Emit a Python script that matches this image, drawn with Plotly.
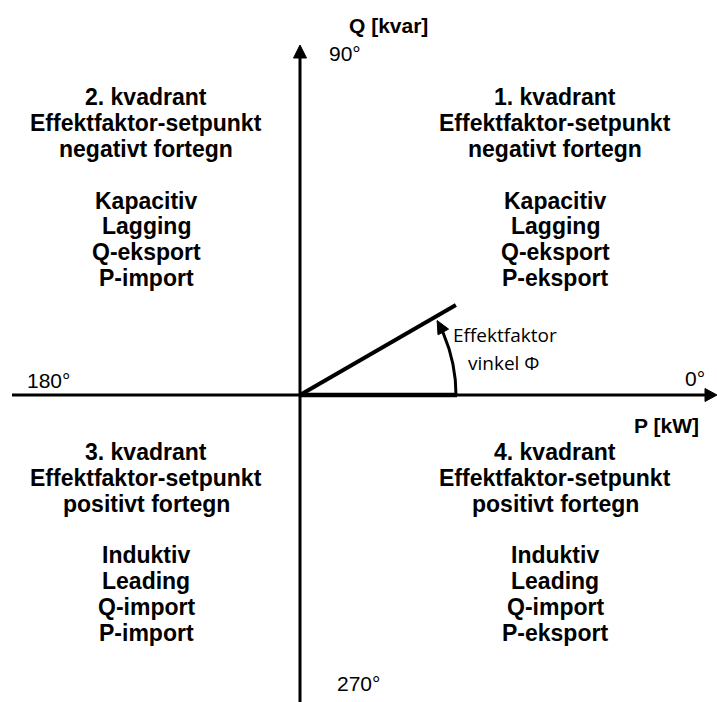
import numpy as np
import plotly.graph_objects as go

# ── Diagram content ───────────────────────────────────────────────────────────
# Quadrants in order 1, 2, 3, 4 (counter-clockwise from the P+/Q+ corner)
QUADRANT_TITLES = ["1. kvadrant", "2. kvadrant", "3. kvadrant", "4. kvadrant"]
SETPOINT_LINE = "Effektfaktor-setpunkt"
SETPOINT_SIGN = ["negativt fortegn", "negativt fortegn", "positivt fortegn", "positivt fortegn"]
LOAD_TYPE = ["Kapacitiv", "Kapacitiv", "Induktiv", "Induktiv"]
PHASE = ["Lagging", "Lagging", "Leading", "Leading"]
Q_FLOW = ["Q-eksport", "Q-eksport", "Q-import", "Q-import"]
P_FLOW = ["P-eksport", "P-import", "P-import", "P-eksport"]

ANGLE_LABELS = ["0°", "90°", "180°", "270°"]
AXIS_TITLES = ["P [kW]", "Q [kvar]"]
PHI_LABEL = ["Effektfaktor", "vinkel Φ"]

PHI_DEG = 30.0        # angle of the example power vector
ARC_END_DEG = 28.5    # where the angle arrow ends
VECTOR_LEN = 180.0
ARC_RADIUS = 156.0

# ── Geometry (1 data unit = 1 pixel, origin where the axes cross) ────────────
X_RANGE = [-300, 417]
Y_RANGE = [-307, 395]
AXIS_LEFT, AXIS_RIGHT = -288, 417
AXIS_BOTTOM, AXIS_TOP = -310, 350

BOLD = "Liberation Sans, Arial, sans-serif"
REG = "Liberation Sans, Arial, sans-serif"
SANS = "Open Sans, sans-serif"

LINE_STEP = 25.8
BLOCK_X = {1: 255, 2: -154, 3: -154, 4: 255}
BLOCK_Y = {1: 297.7, 2: 297.7, 3: -57, 4: -57}


def arrow_head(tip, direction, length, half_w):
    d = np.asarray(direction, float)
    d /= np.linalg.norm(d)
    n = np.array([-d[1], d[0]])
    t = np.asarray(tip, float)
    base = t - length * d
    pts = [t, base + half_w * n, base - half_w * n, t]
    return [p[0] for p in pts], [p[1] for p in pts]


fig = go.Figure()


def add_line(xs, ys, width):
    fig.add_trace(go.Scatter(x=xs, y=ys, mode="lines",
                             line=dict(color="black", width=width),
                             hoverinfo="skip"))


def add_head(tip, direction, length, half_w):
    hx, hy = arrow_head(tip, direction, length, half_w)
    fig.add_trace(go.Scatter(x=hx, y=hy, mode="lines", fill="toself",
                             fillcolor="black", line=dict(color="black", width=1),
                             hoverinfo="skip"))


# Axes with arrowheads
add_line([AXIS_LEFT, AXIS_RIGHT - 10], [0, 0], 3)
add_head((AXIS_RIGHT, 0), (1, 0), 12, 6.5)
add_line([0, 0], [AXIS_BOTTOM, AXIS_TOP - 10], 3)
add_head((0, AXIS_TOP), (0, 1), 13, 6.5)

# Power vector and its projection on the P-axis
phi = np.radians(PHI_DEG)
add_line([0, ARC_RADIUS + 1], [0, 0], 4.5)
add_line([0, VECTOR_LEN * np.cos(phi)], [0, VECTOR_LEN * np.sin(phi)], 4)

# Angle arc with arrowhead
end = np.radians(ARC_END_DEG)
head_len = 13
theta = np.linspace(0, end - head_len / ARC_RADIUS * 0.8, 60)
add_line(ARC_RADIUS * np.cos(theta), ARC_RADIUS * np.sin(theta), 3)
add_head((ARC_RADIUS * np.cos(end), ARC_RADIUS * np.sin(end)),
         (-np.sin(end), np.cos(end)), head_len, 6)

annotations = []


def label(x, y, text, size, family, bold=False):
    annotations.append(dict(
        x=x, y=y, xref="x", yref="y", text=f"<b>{text}</b>" if bold else text,
        showarrow=False, xanchor="center", yanchor="middle",
        font=dict(family=family, size=size, color="black"),
    ))


# Quadrant text blocks
for i, q in enumerate([1, 2, 3, 4]):
    lines = [QUADRANT_TITLES[i], SETPOINT_LINE, SETPOINT_SIGN[i], "",
             LOAD_TYPE[i], PHASE[i], Q_FLOW[i], P_FLOW[i]]
    for k, txt in enumerate(lines):
        if txt:
            label(BLOCK_X[q], BLOCK_Y[q] - k * LINE_STEP, txt, 23, BOLD, bold=True)

# Angle labels
angle_pos = [(395, 17), (45, 342), (-252, 15), (58, -288)]
for txt, (x, y) in zip(ANGLE_LABELS, angle_pos):
    label(x, y, txt, 21, REG)

# Axis titles
label(366, -30, AXIS_TITLES[0], 21, BOLD, bold=True)
label(88, 369.5, AXIS_TITLES[1], 21, BOLD, bold=True)

# Power-factor angle label
label(205, 60, PHI_LABEL[0], 19, SANS)
label(203, 32, PHI_LABEL[1], 19, SANS)

fig.update_layout(
    width=717,
    height=702,
    margin=dict(l=0, r=0, t=0, b=0),
    paper_bgcolor="white",
    plot_bgcolor="white",
    showlegend=False,
    xaxis=dict(range=X_RANGE, visible=False, fixedrange=True),
    yaxis=dict(range=Y_RANGE, visible=False, fixedrange=True),
    annotations=annotations,
)

# the page's default 8px body margin would shift the drawing
fig.write_html("out.html", config={"displayModeBar": False},
               post_script="document.body.style.margin = '0px';")
